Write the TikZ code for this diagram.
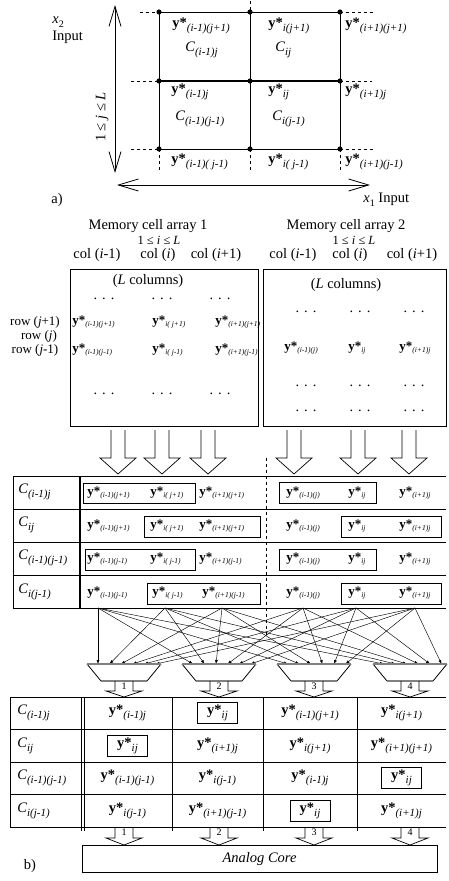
\documentclass[tikz,border=0pt]{standalone}
\usepackage{fontspec}
\setmainfont{Liberation Serif}
\usetikzlibrary{arrows.meta}
\newcommand{\Ysym}[3]{{\fontsize{#1}{#1}\selectfont\bfseries y*}{\fontsize{#2}{#2}\selectfont\itshape\raisebox{-0.3em}{#3}}}
\newcommand{\YA}[1]{\Ysym{14.5}{11}{#1}}
\newcommand{\YM}[1]{\Ysym{13}{7.5}{#1}}
\newcommand{\CC}[1]{{\fontsize{14.5}{14.5}\selectfont\itshape C\raisebox{-0.3em}{\fontsize{11}{11}\selectfont #1}}}
\newcommand{\tx}{\fontsize{14.5}{14.5}\selectfont}
\newcommand{\dts}{\tx .\hspace{5pt}.\hspace{5pt}.}
\begin{document}
\begin{tikzpicture}[x=1pt,y=-1pt,line width=0.8pt,
  lbl/.style={inner sep=0pt,anchor=west},
  ctr/.style={inner sep=0pt},
  dsh/.style={dashed,line width=0.7pt,dash pattern=on 3pt off 3pt},
  barb/.style={{Straight Barb[length=20pt,width=12pt]}-{Straight Barb[length=20pt,width=12pt]}},
  pairbox/.style={draw,line width=1pt,inner sep=0pt},
  onebox/.style={draw,line width=1pt,inner sep=0pt,minimum width=40pt,minimum height=21pt},
  fan/.style={line width=0.45pt,-{Latex[length=4pt,width=3pt]}},
  hollow/.style={line width=0.7pt},
  tline/.style={line width=1pt},
  num/.style={inner sep=0pt,font=\fontsize{10}{10}\selectfont}]
\path[use as bounding box] (0,0) rectangle (448,881);

% ---------------- part a ----------------
\draw (159,12) rectangle (340,149);
\draw (250,12) -- (250,149);
\draw[line width=1.6pt] (159,81) -- (340,81);
\foreach \x in {159,250,340} \foreach \y in {12,81,149} \fill (\x,\y) circle (2.6);
\draw[dsh] (140,12) -- (159,12);
\draw[dsh] (340,12) -- (375,12);
\draw[dsh] (131,81) -- (159,81);
\draw[dsh] (340,81) -- (372,81);
\draw[dsh] (131,149) -- (159,149);
\draw[dsh] (340,149) -- (375,149);
\draw[dsh] (250,1) -- (250,12);
\draw[dsh] (250,149) -- (250,173);
\draw[dsh] (159,149) -- (159,173);
\draw[dsh] (340,149) -- (340,173);
\coordinate (vt) at (115,5);
\coordinate (vb) at (115,173);
\coordinate (hl) at (117,185);
\coordinate (hr) at (370,185);
\draw[barb] (vt) -- (vb);
\draw[barb] (hl) -- (hr);

\node[lbl] (x2) at (52,22) {\tx\itshape x\raisebox{-0.3em}{\fontsize{10}{10}\selectfont\upshape 2}};
\node[lbl] (inp2) at (52,37) {\tx Input};
\node[ctr,rotate=90] (jL) at (102,117) {\tx 1 ≤ \textit{j} ≤ \textit{L}};
\node[ctr] (alab) at (57,200) {\tx a)};
\node[lbl] (x1) at (363,200) {\tx\textit{x}\raisebox{-0.3em}{\fontsize{10}{10}\selectfont 1} Input};

\node[lbl] (a1) at (172,26) {\YA{(i-1)(j+1)}};
\node[lbl] (a2) at (268,26) {\YA{i(j+1)}};
\node[lbl] (a3) at (345,26) {\YA{(i+1)(j+1)}};
\node[lbl] (a4) at (185,50) {\CC{(i-1)j}};
\node[lbl] (a5) at (275,50) {\CC{ij}};
\node[lbl] (a6) at (171,92) {\YA{(i-1)j}};
\node[lbl] (a7) at (268,92) {\YA{ij}};
\node[lbl] (a8) at (345,92) {\YA{(i+1)j}};
\node[lbl] (a9) at (175,119) {\CC{(i-1)(j-1)}};
\node[lbl] (a10) at (272,119) {\CC{i(j-1)}};
\node[lbl] (a11) at (171,162) {\YA{(i-1)( j-1)}};
\node[lbl] (a12) at (268,162) {\YA{i( j-1)}};
\node[lbl] (a13) at (345,162) {\YA{(i+1)(j-1)}};

% ---------------- memory arrays ----------------
\node[ctr] (m1) at (148,226) {\tx Memory cell array 1};
\node[ctr,font=\fontsize{12.5}{12.5}\selectfont] (r1) at (159,240) {1 ≤ \textit{i} ≤ \textit{L}};
\node[ctr] (c11) at (97,255) {\tx col (\textit{i}-1)};
\node[ctr] (c12) at (158,255) {\tx col (\textit{i})};
\node[ctr] (c13) at (216,255) {\tx col (\textit{i}+1)};
\node[ctr] (m2) at (346,226) {\tx Memory cell array 2};
\node[ctr,font=\fontsize{12.5}{12.5}\selectfont] (r2) at (354,240) {1 ≤ \textit{i} ≤ \textit{L}};
\node[ctr] (c21) at (293,255) {\tx col (\textit{i}-1)};
\node[ctr] (c22) at (350,255) {\tx col (\textit{i})};
\node[ctr] (c23) at (412,255) {\tx col (\textit{i}+1)};

\node[draw,inner sep=0pt,minimum width=188pt,minimum height=157pt] (box1) at (164,347.5) {};
\node[draw,inner sep=0pt,minimum width=183pt,minimum height=157pt] (box2) at (354.5,347.5) {};

\node[ctr] (lc1) at (148,281) {\tx(\textit{L} columns)};
\foreach \x [count=\k] in {104,162,220} {
  \node[ctr] (d1a\k) at (\x,299) {\dts};
  \node[ctr] (d1b\k) at (\x,394) {\dts};
}
\node[ctr,font=\fontsize{13}{13}\selectfont] (rw1) at (35,322) {row (\textit{j}+1)};
\node[ctr,font=\fontsize{13}{13}\selectfont] (rw2) at (39,336) {row (\textit{j})};
\node[ctr,font=\fontsize{13}{13}\selectfont] (rw3) at (35,350) {row (\textit{j}-1)};
\node[lbl] (e11) at (72,322) {\YM{(i-1)(j+1)}};
\node[lbl] (e12) at (152,322) {\YM{i( j+1)}};
\node[lbl] (e13) at (215,322) {\YM{(i+1)(j+1)}};
\node[lbl] (e14) at (72,350) {\YM{(i-1)(j-1)}};
\node[lbl] (e15) at (152,350) {\YM{i( j-1)}};
\node[lbl] (e16) at (215,350) {\YM{(i+1)(j-1)}};

\node[ctr] (lc2) at (346,285) {\tx(\textit{L} columns)};
\foreach \x [count=\k] in {306,360,414} {
  \node[ctr] (d2a\k) at (\x,312) {\dts};
  \node[ctr] (d2b\k) at (\x,386) {\dts};
  \node[ctr] (d2c\k) at (\x,411) {\dts};
}
\node[lbl] (e21) at (284,348) {\YM{(i-1)(j)}};
\node[lbl] (e22) at (348,348) {\YM{ij}};
\node[lbl] (e23) at (399,348) {\YM{(i+1)j}};

% hollow arrows from arrays
\foreach \c in {118,162,208,294,358,409} {
  \draw[hollow] (\c-7,430) -- (\c-7,458) -- (\c-18,458) -- (\c,474) -- (\c+18,458) -- (\c+7,458) -- (\c+7,430);
}
\draw[dsh] (266,458) -- (266,638);

% ---------------- middle table ----------------
\foreach \y in {476,509,542,575,608} \draw[tline] (13,\y) -- (446,\y);
\draw[tline] (13,476) -- (13,608);
\draw[line width=2pt] (80,476) -- (80,608);

\node[lbl] (C1) at (18,492) {\CC{(i-1)j}};
\node[lbl] (C2) at (18,525) {\CC{ij}};
\node[lbl] (C3) at (18,558) {\CC{(i-1)(j-1)}};
\node[lbl] (C4) at (18,592) {\CC{i(j-1)}};

% row 1
\node[pairbox,minimum width=112pt,minimum height=20pt] (p1l) at (139,493) {};
\node[lbl] (t11) at (87,493) {\YM{(i-1)(j+1)}};
\node[lbl] (t12) at (150,493) {\YM{i( j+1)}};
\node[lbl] (t13) at (199,493) {\YM{(i+1)(j+1)}};
\node[pairbox,minimum width=97pt,minimum height=21pt] (p1r) at (327.5,492.5) {};
\node[lbl] (t14) at (286,493) {\YM{(i-1)(j)}};
\node[lbl] (t15) at (348,493) {\YM{ij}};
\node[lbl] (t16) at (399,493) {\YM{(i+1)j}};
% row 2
\node[lbl] (t21) at (87,526) {\YM{(i-1)(j+1)}};
\node[pairbox,minimum width=116pt,minimum height=21pt] (p2l) at (202,526.5) {};
\node[lbl] (t22) at (150,526) {\YM{i( j+1)}};
\node[lbl] (t23) at (199,526) {\YM{(i+1)(j+1)}};
\node[lbl] (t24) at (286,526) {\YM{(i-1)(j)}};
\node[pairbox,minimum width=100pt,minimum height=21pt] (p2r) at (391,526.5) {};
\node[lbl] (t25) at (348,526) {\YM{ij}};
\node[lbl] (t26) at (399,526) {\YM{(i+1)j}};
% row 3
\node[pairbox,minimum width=110pt,minimum height=21pt] (p3l) at (140,559.5) {};
\node[lbl] (t31) at (87,559) {\YM{(i-1)(j-1)}};
\node[lbl] (t32) at (150,559) {\YM{i( j-1)}};
\node[lbl] (t33) at (199,559) {\YM{(i+1)(j-1)}};
\node[pairbox,minimum width=97pt,minimum height=21pt] (p3r) at (327.5,559.5) {};
\node[lbl] (t34) at (286,559) {\YM{(i-1)(j)}};
\node[lbl] (t35) at (348,559) {\YM{ij}};
\node[lbl] (t36) at (399,559) {\YM{(i+1)j}};
% row 4
\node[lbl] (t41) at (87,593) {\YM{(i-1)(j-1)}};
\node[pairbox,minimum width=113pt,minimum height=21pt] (p4l) at (203.5,593.5) {};
\node[lbl] (t42) at (152,593) {\YM{i( j-1)}};
\node[lbl] (t43) at (202,593) {\YM{(i+1)(j-1)}};
\node[lbl] (t44) at (286,593) {\YM{(i-1)(j)}};
\node[pairbox,minimum width=100pt,minimum height=21pt] (p4r) at (391,593.5) {};
\node[lbl] (t45) at (348,593) {\YM{ij}};
\node[lbl] (t46) at (399,593) {\YM{(i+1)j}};

% ---------------- fan-out to multiplexers ----------------
\foreach \s/\sx in {1/98,2/165,3/222,4/303,5/356,6/415}
  \coordinate (s\s) at (\sx,608);
\foreach \m/\c in {1/124,2/219,3/314,4/410} {
  \foreach \s in {1,...,6}
    \coordinate (t\m-\s) at ({\c-26+11.5*(\s-1)},664);
}
\foreach \m in {1,...,4} {
  \foreach \s in {1,...,6}
    \draw[fan] (s\s) -- (t\m-\s);
}
\foreach \m/\c in {1/124,2/219,3/314,4/410} {
  \draw (\c-37,664) -- (\c-23,681);
  \draw (\c+37,664) -- (\c+23,681);
  \draw[gray,line width=1.2pt] (\c-37,664) -- (\c+37,664);
  \draw[gray,line width=1.2pt] (\c-23,681) -- (\c+23,681);
  \draw[hollow] (\c-9,681) -- (\c-9,691) -- (\c-18,691) -- (\c,697) -- (\c+18,691) -- (\c+9,691) -- (\c+9,681);
  \node[num] (n\m) at (\c,686) {\m};
  \draw[hollow] (\c-9,827) -- (\c-9,838) -- (\c-18,838) -- (\c,845) -- (\c+18,838) -- (\c+9,838) -- (\c+9,827);
  \node[num] (o\m) at (\c,832.5) {\m};
}

% ---------------- bottom table ----------------
\foreach \y in {697,729.5,762,794.5,827} \draw[tline] (10,\y) -- (446,\y);
\draw[tline] (10,697) -- (10,827);
\draw (81.5,697) -- (81.5,831);
\draw (84.5,697) -- (84.5,831);
\foreach \x in {172,263,357} \draw (\x,697) -- (\x,831);

\node[lbl] (D1) at (17,713) {\CC{(i-1)j}};
\node[lbl] (D2) at (17,746) {\CC{ij}};
\node[lbl] (D3) at (17,778) {\CC{(i-1)(j-1)}};
\node[lbl] (D4) at (17,811) {\CC{i(j-1)}};

\node[ctr] (u11) at (127.5,713) {\YA{(i-1)j}};
\node[onebox] (u12) at (217.5,713) {\YA{ij}};
\node[ctr] (u13) at (310,713) {\YA{(i-1)(j+1)}};
\node[ctr] (u14) at (401.5,713) {\YA{i(j+1)}};
\node[onebox] (u21) at (127.5,746) {\YA{ij}};
\node[ctr] (u22) at (217.5,746) {\YA{(i+1)j}};
\node[ctr] (u23) at (310,746) {\YA{i(j+1)}};
\node[ctr] (u24) at (401.5,746) {\YA{(i+1)(j+1)}};
\node[ctr] (u31) at (127.5,778) {\YA{(i-1)(j-1)}};
\node[ctr] (u32) at (217.5,778) {\YA{i(j-1)}};
\node[ctr] (u33) at (310,778) {\YA{(i-1)j}};
\node[onebox] (u34) at (401.5,778) {\YA{ij}};
\node[ctr] (u41) at (127.5,811) {\YA{i(j-1)}};
\node[ctr] (u42) at (217.5,811) {\YA{(i+1)(j-1)}};
\node[onebox] (u43) at (310,811) {\YA{ij}};
\node[ctr] (u44) at (401.5,811) {\YA{(i+1)j}};

\node[draw,inner sep=0pt,minimum width=355pt,minimum height=27pt] (core) at (259.5,859) {\tx\itshape Analog Core};
\node[ctr] (blab) at (30,866) {\tx b)};
\end{tikzpicture}
\end{document}
